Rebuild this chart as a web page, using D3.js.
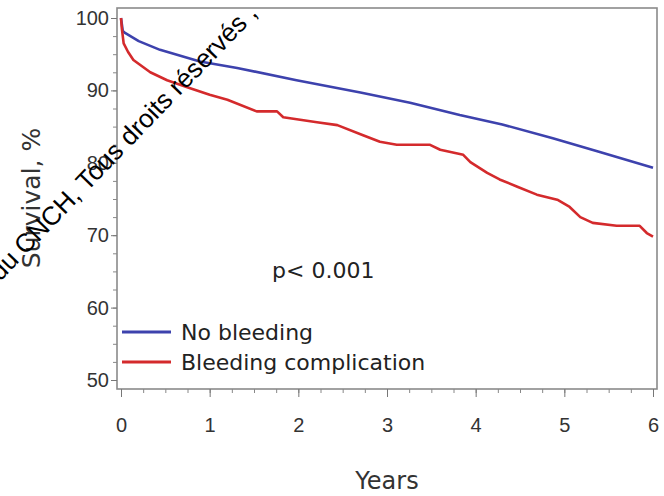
<!DOCTYPE html>
<html>
<head>
<meta charset="utf-8">
<script src="https://cdn.jsdelivr.net/npm/d3@7"></script>
<style>
  body { margin: 0; background: #fff; }
  svg { display: block; font-family: "DejaVu Sans", sans-serif; }
  .tick text { fill: #333; }
</style>
</head>
<body>
<div id="chart"></div>
<script>
// Kaplan-Meier survival
const noBleedYears = [0, 0.02, 0.05, 0.2, 0.44, 0.89, 1.31, 1.98, 2.7, 3.26, 3.82, 4.3, 4.87, 5.4, 6.0]
const noBleedSurv  = [100, 98.2, 97.9, 96.8, 95.6, 94.0, 93.1, 91.4, 89.7, 88.3, 86.6, 85.3, 83.4, 81.5, 79.3]

const bleedYears = [0, 0.01, 0.03, 0.08, 0.14, 0.33, 0.52, 0.78, 1.0, 1.2, 1.53, 1.6, 1.76, 1.83, 2.21, 2.44, 2.73,
    2.92, 3.11, 3.48, 3.6, 3.86, 3.94, 4.13, 4.27, 4.47, 4.69, 4.92, 5.06, 5.18, 5.32, 5.59, 5.85, 5.93, 6.0]
const bleedSurv  = [100, 98.5, 96.5, 95.3, 94.2, 92.5, 91.4, 90.3, 89.4, 88.7, 87.1, 87.1, 87.1, 86.3, 85.6, 85.2, 83.8,
    82.9, 82.5, 82.5, 81.8, 81.1, 80.1, 78.6, 77.7, 76.7, 75.6, 74.9, 73.9, 72.5, 71.7, 71.3, 71.3, 70.3, 69.8]

const seriesNames = ['No bleeding', 'Bleeding complication']
const seriesColors = ['#3d42ad', '#d42a2c']

const xTicks = [0, 1, 2, 3, 4, 5, 6]
const yTicks = [50, 60, 70, 80, 90, 100]

let width = 664,
    height = 496,
    frame = {left: 117, right: 657, top: 8, bottom: 389}

let svg = d3.select('#chart')
    .append('svg')
    .attr('width', width)
    .attr('height', height)

// scales
let x = d3.scaleLinear().domain([0, 6]).range([121, 653])
let y = d3.scaleLinear().domain([50, 100]).range([380, 18])

// plot frame
svg.append('rect')
    .attr('x', frame.left)
    .attr('y', frame.top)
    .attr('width', frame.right - frame.left)
    .attr('height', frame.bottom - frame.top)
    .attr('fill', 'none')
    .attr('stroke', '#8a8a8a')
    .attr('stroke-width', 1.6)

// y axis: minor then major ticks
svg.append('g')
    .attr('transform', `translate(${frame.left},0)`)
    .call(d3.axisLeft(y).tickValues(d3.range(50, 100.1, 2.5)).tickSize(4).tickFormat(''))
    .call(g => g.select('.domain').remove())
    .call(g => g.selectAll('line').attr('stroke', '#888'))
svg.append('g')
    .attr('transform', `translate(${frame.left},0)`)
    .call(d3.axisLeft(y).tickValues(yTicks).tickSize(6).tickPadding(2))
    .call(g => g.select('.domain').remove())
    .call(g => g.selectAll('line').attr('stroke', '#777'))
    .call(g => g.selectAll('text').attr('font-size', 20).attr('font-family', null))

// x axis
svg.append('g')
    .attr('transform', `translate(0,${frame.bottom})`)
    .call(d3.axisBottom(x).tickValues(d3.range(0, 6.01, 0.25)).tickSize(4).tickFormat(''))
    .call(g => g.select('.domain').remove())
    .call(g => g.selectAll('line').attr('stroke', '#888'))
svg.append('g')
    .attr('transform', `translate(0,${frame.bottom})`)
    .call(d3.axisBottom(x).tickValues(xTicks).tickFormat(d3.format('d')).tickSize(8).tickPadding(21))
    .call(g => g.select('.domain').remove())
    .call(g => g.selectAll('line').attr('stroke', '#777'))
    .call(g => g.selectAll('text').attr('font-size', 20).attr('font-family', null))

// axis titles
svg.append('text')
    .attr('x', x(3))
    .attr('y', 489)
    .attr('text-anchor', 'middle')
    .attr('font-size', 24)
    .attr('fill', '#333')
    .text('Years')
svg.append('text')
    .attr('transform', `translate(40,198) rotate(-90)`)
    .attr('text-anchor', 'middle')
    .attr('font-size', 25)
    .attr('fill', '#333')
    .text('Survival, %')

// survival curves
let line = d3.line()
    .x(d => x(d[0]))
    .y(d => y(d[1]))

let series = [
    d3.zip(noBleedYears, noBleedSurv),
    d3.zip(bleedYears, bleedSurv)
]

svg.selectAll('path.curve')
    .data(series)
    .enter()
    .append('path')
    .attr('class', 'curve')
    .attr('d', line)
    .attr('fill', 'none')
    .attr('stroke', (d, i) => seriesColors[i])
    .attr('stroke-width', 2.6)
    .attr('stroke-linejoin', 'round')

// p value
svg.append('text')
    .attr('x', 272)
    .attr('y', 278)
    .attr('font-size', 22)
    .attr('fill', '#222')
    .text('p< 0.001')

// legend
let legend = svg.selectAll('g.legend')
    .data(seriesNames)
    .enter()
    .append('g')
    .attr('class', 'legend')
    .attr('transform', (d, i) => `translate(122,${332 + i * 30})`)
legend.append('line')
    .attr('x1', 0).attr('x2', 49)
    .attr('stroke', (d, i) => seriesColors[i])
    .attr('stroke-width', 3)
legend.append('text')
    .attr('x', 59)
    .attr('dy', '0.35em')
    .attr('font-size', 22)
    .attr('fill', '#222')
    .text(d => d)

// watermark
svg.append('text')
    .attr('transform', 'translate(0,282) rotate(-46)')
    .attr('font-family', '"Liberation Sans", Arial, sans-serif')
    .attr('font-size', 26)
    .attr('fill', '#000')
    .text('du CNCH, Tous droits réservés ,')
</script>
</body>
</html>
